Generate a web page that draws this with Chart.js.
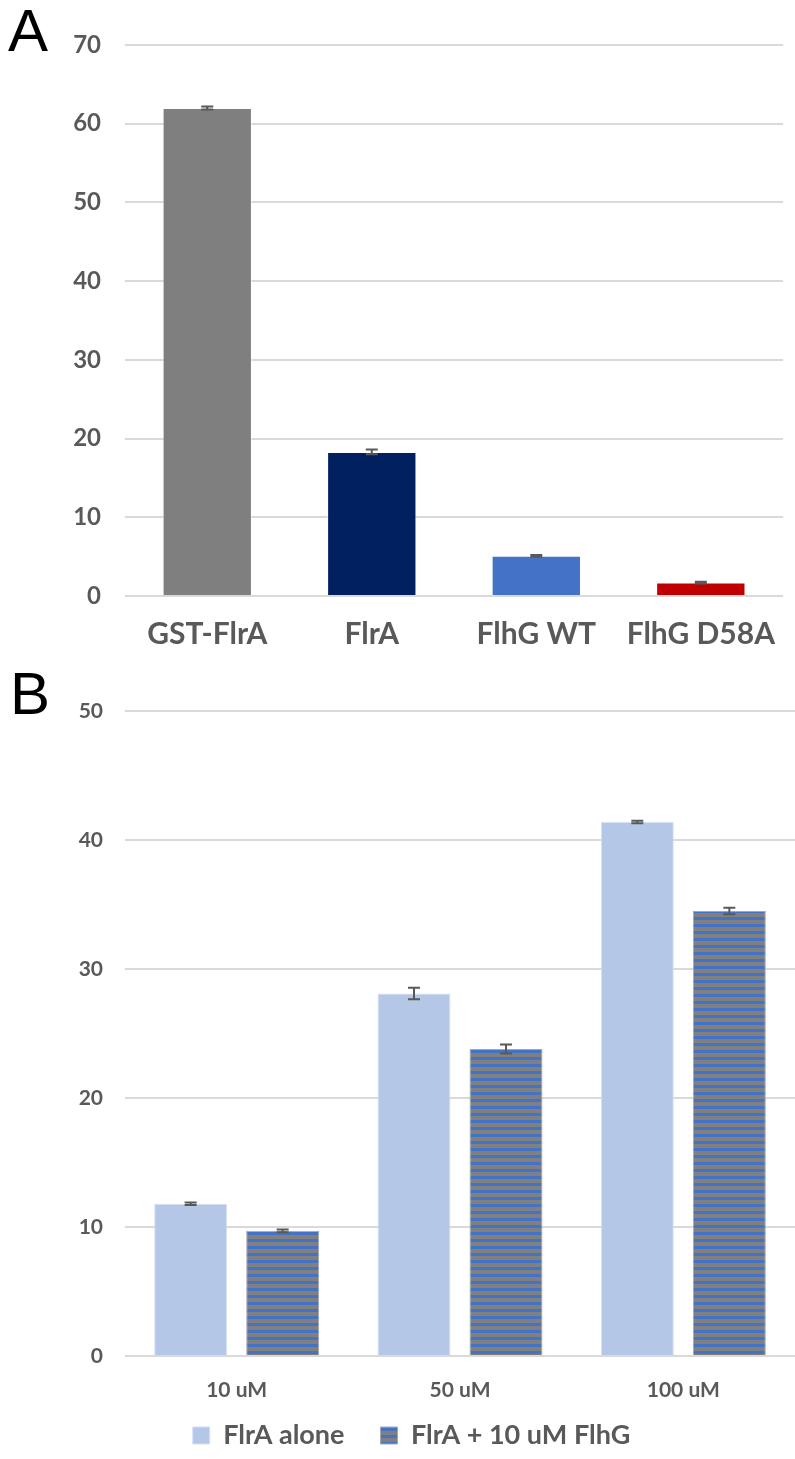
<!DOCTYPE html>
<html>
<head>
<meta charset="utf-8">
<script src="https://cdn.jsdelivr.net/npm/chart.js@4.4.1/dist/chart.umd.min.js"></script>
<style>
  html, body { margin: 0; padding: 0; background: #ffffff; }
  body { width: 795px; height: 1459px; position: relative; overflow: hidden; }
  .panel { position: absolute; left: 0; width: 795px; }
  .tag { position: absolute; font-family: "Liberation Sans", Arial, sans-serif; font-size: 60px; color: #000; line-height: 1; }
</style>
</head>
<body>
<div class="tag" style="left:8px; top:1px;">A</div>
<div class="tag" style="left:10px; top:664px;">B</div>
<div class="panel" style="top:0; height:665px;"><canvas id="chartA"></canvas></div>
<div class="panel" style="top:665px; height:794px;"><canvas id="chartB"></canvas></div>
<script>
// Panel A: activity of each protein
const proteinLabels = ['GST-FlrA', 'FlrA', 'FlhG WT', 'FlhG D58A'];
const proteinValues = [62.0, 18.3, 5.1, 1.7];
const proteinErrors = [0.2, 0.3, 0.1, 0.1];
const proteinColors = ['#7F7F7F', '#002060', '#4472C4', '#C00000'];
const ticksA = { min: 0, max: 70, step: 10 };

// Panel B: FlrA concentration series, with and without FlhG
const concLabels = ['10 uM', '50 uM', '100 uM'];
const aloneName = 'FlrA alone';
const aloneValues = [11.8, 28.1, 41.4];
const aloneErrors = [0.1, 0.45, 0.1];
const withName = 'FlrA + 10 uM FlhG';
const withValues = [9.7, 23.8, 34.5];
const withErrors = [0.1, 0.35, 0.25];
const ticksB = { min: 0, max: 50, step: 10 };

const TEXT = '#595959';
const GRID = '#D9D9D9';
const FONT = 'Lato, "Open Sans", sans-serif';

// horizontal blue/grey stripes for the FlhG series
function stripePattern() {
  const c = document.createElement('canvas');
  c.width = 8; c.height = 7;
  const g = c.getContext('2d');
  g.fillStyle = '#808080'; g.fillRect(0, 0, 8, 7);
  g.fillStyle = '#4472C4'; g.fillRect(0, 0, 8, 3);
  return g.createPattern(c, 'repeat');
}

// error bars drawn from each dataset's `errors` array through the y scale
const errorBars = {
  id: 'errorBars',
  afterDatasetsDraw(chart) {
    const ctx = chart.ctx;
    const y = chart.scales.y;
    chart.data.datasets.forEach((ds, di) => {
      if (!ds.errors) return;
      const meta = chart.getDatasetMeta(di);
      meta.data.forEach((bar, i) => {
        const v = ds.data[i], e = ds.errors[i];
        const top = y.getPixelForValue(v + e);
        const bot = y.getPixelForValue(v - e);
        const x = bar.x, half = 6;
        ctx.save();
        ctx.strokeStyle = '#595959';
        ctx.lineWidth = 2;
        ctx.beginPath();
        ctx.moveTo(x, top); ctx.lineTo(x, bot);
        ctx.moveTo(x - half, top); ctx.lineTo(x + half, top);
        ctx.moveTo(x - half, bot); ctx.lineTo(x + half, bot);
        ctx.stroke();
        ctx.restore();
      });
    });
  }
};

// compact legend box; the row is drawn a little higher and to the right
const legendBox = {
  id: 'legendBox',
  beforeInit(chart) {
    const lg = chart.legend;
    if (!lg) return;
    const fit = lg.fit;
    lg.fit = function () { fit.call(this); if (this.options.display) this.height = 44; };
    const draw = lg.draw;
    lg.draw = function () {
      const box = { left: this.left, right: this.right, top: this.top };
      this.left += 14; this.right += 14; this.top -= 29;
      draw.call(this);
      Object.assign(this, box);
    };
  }
};

function yAxis(t, fontSize, pad) {
  return {
    min: t.min, max: t.max,
    ticks: { stepSize: t.step, color: TEXT, padding: pad, font: { family: FONT, size: fontSize, weight: 'bold' } },
    grid: { color: GRID, lineWidth: 2, drawTicks: false },
    border: { display: false },
    afterFit(s) { s.width = 125; }
  };
}

function xAxis(fontSize, pad, h) {
  return {
    ticks: { color: TEXT, padding: pad, font: { family: FONT, size: fontSize, weight: 'bold' } },
    grid: { display: false, drawTicks: false },
    border: { display: false },
    afterFit(s) { s.height = h; }
  };
}

new Chart(document.getElementById('chartA'), {
  type: 'bar',
  data: {
    labels: proteinLabels,
    datasets: [{
      data: proteinValues,
      errors: proteinErrors,
      backgroundColor: proteinColors,
      borderColor: 'rgba(255,255,255,0.5)',
      borderWidth: 1,
      categoryPercentage: 1,
      barPercentage: 0.543
    }]
  },
  options: {
    responsive: true, maintainAspectRatio: false, animation: false,
    layout: { padding: { top: 45, right: 0, left: 0, bottom: 0 } },
    plugins: { legend: { display: false }, tooltip: { enabled: false } },
    scales: { x: xAxis(30, 20, 69), y: yAxis(ticksA, 24, 24) }
  },
  plugins: [errorBars]
});

new Chart(document.getElementById('chartB'), {
  type: 'bar',
  data: {
    labels: concLabels,
    datasets: [
      { label: aloneName, data: aloneValues, errors: aloneErrors, backgroundColor: '#B4C7E7',
        borderColor: '#D5E0F2', borderWidth: 1, categoryPercentage: 0.824, barPercentage: 0.793 },
      { label: withName, data: withValues, errors: withErrors, backgroundColor: stripePattern(),
        borderColor: '#A0A8B8', borderWidth: 1, categoryPercentage: 0.824, barPercentage: 0.793 }
    ]
  },
  options: {
    responsive: true, maintainAspectRatio: false, animation: false,
    layout: { padding: { top: 46, right: 0, left: 0, bottom: 0 } },
    plugins: {
      tooltip: { enabled: false },
      legend: {
        position: 'bottom',
        labels: { color: TEXT, boxWidth: 17, boxHeight: 17, padding: 36,
                  font: { family: FONT, size: 27, weight: 'bold' } }
      }
    },
    scales: { x: xAxis(21, 22, 59), y: yAxis(ticksB, 21, 22) }
  },
  plugins: [errorBars, legendBox]
});
</script>
</body>
</html>
